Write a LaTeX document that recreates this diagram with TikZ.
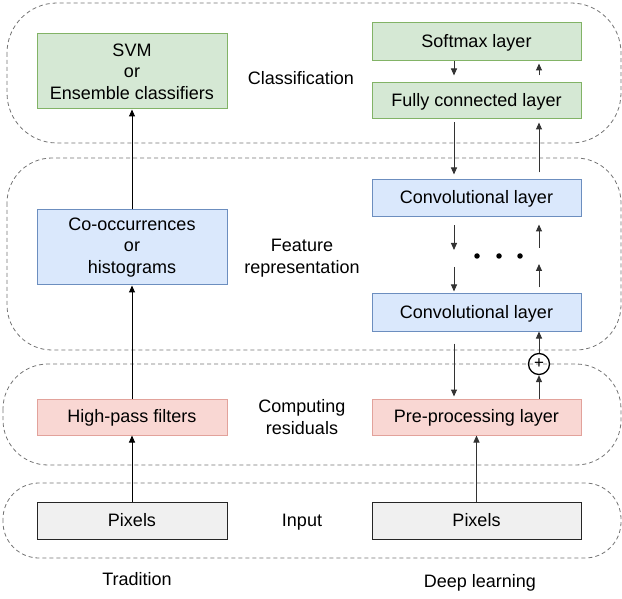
\documentclass[tikz,border=0pt]{standalone}
\usepackage{fontspec}
\setmainfont{Liberation Sans}
\usetikzlibrary{arrows.meta}

\definecolor{grnfill}{HTML}{D5E8D4}
\definecolor{grnline}{HTML}{82B366}
\definecolor{bluefill}{HTML}{DAE8FC}
\definecolor{blueline}{HTML}{6C8EBF}
\definecolor{redfill}{HTML}{F9D7D3}
\definecolor{redline}{HTML}{E2A29B}
\definecolor{greyfill}{HTML}{F0F0F0}

\begin{document}
\begin{tikzpicture}[x=1pt, y=-1pt,
        box/.style={draw, line width=1pt, minimum height=37pt, inner sep=0pt, align=center,
            font=\fontsize{18}{21.6}\selectfont},
        oneline/.style={text height=13pt, text depth=2pt},
        wide/.style={box, minimum width=190pt},
        layer/.style={box, oneline, minimum width=209pt},
        zone/.style={draw=black!55, line width=0.8pt, dash pattern=on 4pt off 3pt},
        lbl/.style={align=center, font=\fontsize{18}{21.6}\selectfont},
        arr/.style={-{Triangle[length=7pt,width=6pt]}, line width=1pt},
    ]
        \useasboundingbox (0,0) rectangle (622,599);

        % the four stages
        \draw[zone, rounded corners=50pt] (7,3) rectangle (621,143);
        \draw[zone, rounded corners=45pt] (7,158) rectangle (621,350);
        \draw[zone, rounded corners=45pt] (3,364) rectangle (621,465);
        \draw[zone, rounded corners=36pt] (3,483) rectangle (621,558);

        \node[lbl, oneline] (cls) at (301,79) {Classification};
        \node[lbl] (feat) at (302,258) {Feature\\representation};
        \node[lbl] (resid) at (302,417) {Computing\\residuals};
        \node[lbl, oneline] (inp) at (302,521) {Input};

        % traditional pipeline
        \node[wide, fill=grnfill, draw=grnline, minimum height=75pt] (svm) at (132,71.5) {SVM\\or\\Ensemble classifiers};
        \node[wide, fill=bluefill, draw=blueline, minimum height=75pt] (cooc) at (132,247.5) {Co-occurrences\\or\\histograms};
        \node[wide, oneline, fill=redfill, draw=redline, minimum height=36pt] (hpf) at (132,417) {High-pass filters};
        \node[wide, oneline, fill=greyfill, draw=black!85] (pixl) at (132,520.5) {Pixels};

        \draw[arr] (pixl) -- (hpf);
        \draw[arr] (hpf) -- (cooc);
        \draw[arr] (cooc) -- (svm);

        % deep network
        \node[layer, fill=grnfill, draw=grnline, minimum height=38pt] (softmax) at (476.5,42) {Softmax layer};
        \node[layer, fill=grnfill, draw=grnline, minimum height=36pt] (fc) at (476.5,101) {Fully connected layer};
        \node[layer, fill=bluefill, draw=blueline] (conv1) at (476.5,198.5) {Convolutional layer};
        \node[layer, fill=bluefill, draw=blueline] (conv2) at (476.5,312.5) {Convolutional layer};
        \node[layer, fill=redfill, draw=redline, minimum height=36pt] (pre) at (476.5,417) {Pre-processing layer};
        \node[layer, fill=greyfill, draw=black!85] (pixr) at (476.5,520.5) {Pixels};

        \foreach \x [count=\i] in {477,499,520} {
             \node[circle, fill, inner sep=0pt, minimum size=5.5pt] (dot\i) at (\x,256) {};
        }
        \node[circle, draw, line width=1.3pt, minimum size=21pt, inner sep=0pt,
            font=\fontsize{17}{17}\selectfont] (plus) at (539,364) {+};

        \coordinate (dn) at (454,0);
        \coordinate (up) at (539,0);

        \begin{scope}[draw=black!80]
        \draw[arr] (pixr) -- (pre);
        \draw[arr, shorten >=7pt] (softmax.south -| dn) -- (fc.north -| dn);
        \draw[arr, shorten <=7pt, shorten >=2pt] (fc.north -| up) -- (softmax.south -| up);
        \draw[arr, shorten <=3pt, shorten >=5pt] (fc.south -| dn) -- (conv1.north -| dn);
        \draw[arr, shorten <=7pt, shorten >=3pt] (conv1.north -| up) -- (fc.south -| up);
        \draw[arr, shorten <=8pt, shorten >=6pt] (conv1.south -| dn) -- (dot2 -| dn);
        \draw[arr, shorten <=11pt, shorten >=2pt] (dot2 -| dn) -- (conv2.north -| dn);
        \draw[arr, shorten <=6pt, shorten >=8pt] (conv2.north -| up) -- (dot2 -| up);
        \draw[arr, shorten <=8pt, shorten >=7pt] (dot2 -| up) -- (conv1.south -| up);
        \draw[arr, shorten <=12pt, shorten >=2pt] (conv2.south -| dn) -- (pre.north -| dn);
        \draw[arr] (pre.north -| plus) -- (plus);
        \draw[arr] (plus) -- (conv2.south -| plus);
        \end{scope}

        \node[lbl, oneline] (trad) at (137,580) {Tradition};
        \node[lbl, oneline] (deep) at (480,582) {Deep learning};
\end{tikzpicture}
\end{document}
